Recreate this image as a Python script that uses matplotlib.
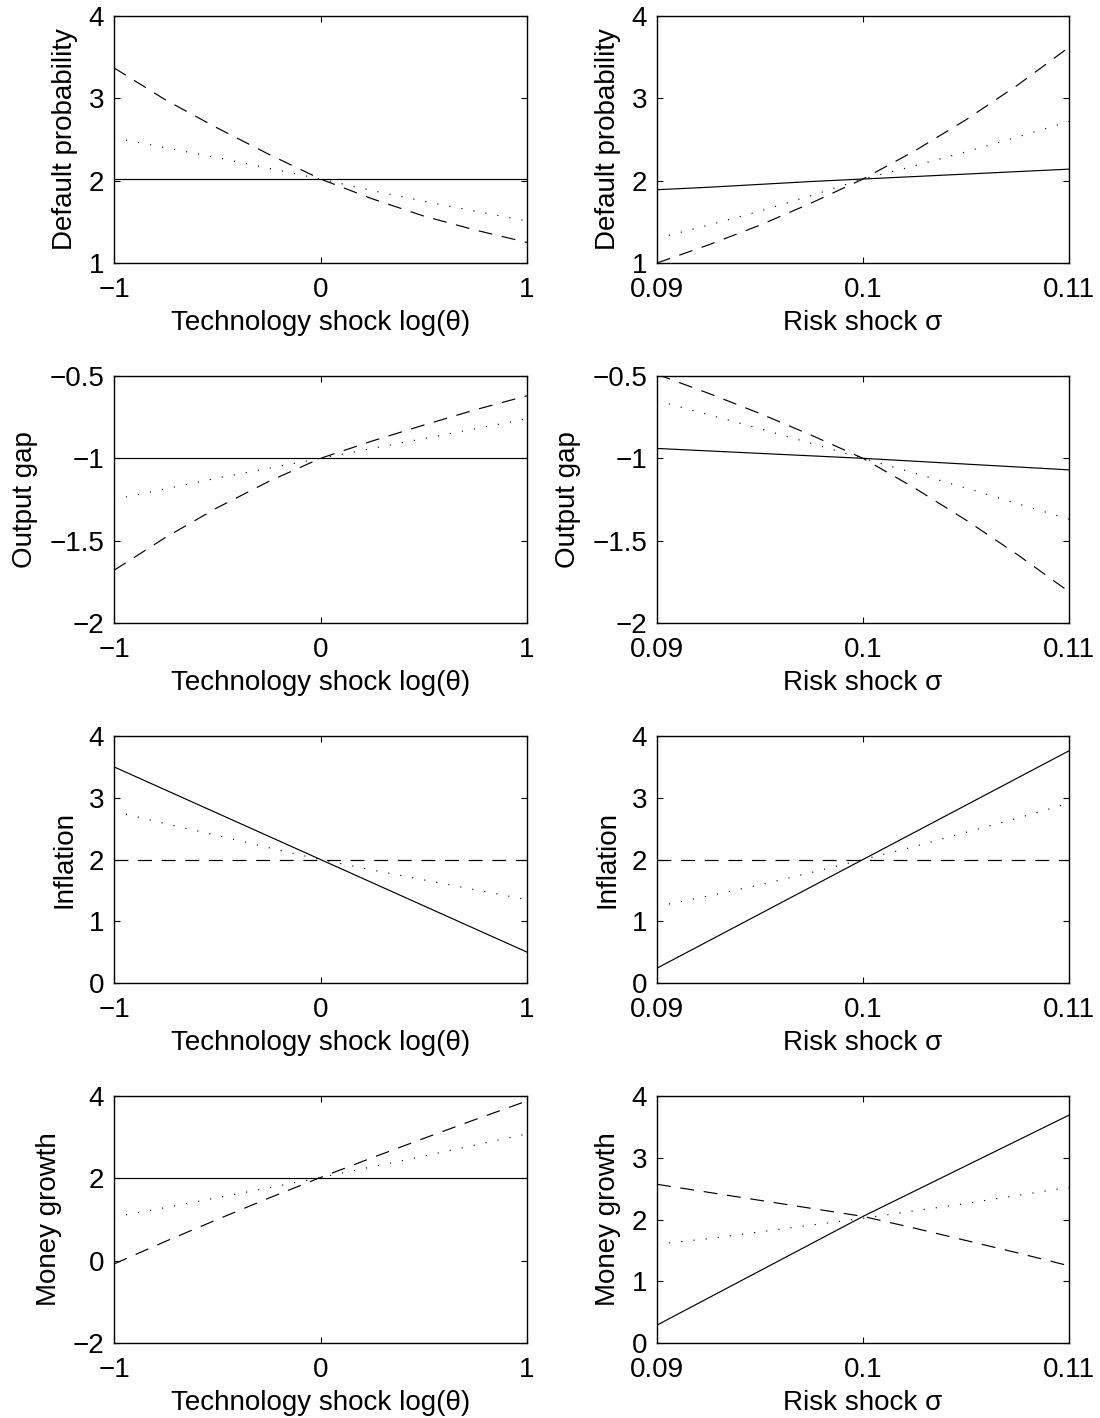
import numpy as np
import matplotlib
matplotlib.use("Agg")
import matplotlib.pyplot as plt

plt.rcParams["font.family"] = ["Liberation Sans", "DejaVu Sans"]
plt.rcParams["lines.scale_dashes"] = False

# x grids
tech_x = [-1.0, -0.75, -0.5, -0.25, 0.0, 0.25, 0.5, 0.75, 1.0]
risk_x = [0.09, 0.0925, 0.095, 0.0975, 0.10, 0.1025, 0.105, 0.1075, 0.11]

# Default probability
dp_tech_solid = [2.02] * 9
dp_tech_dashed = [3.37, 2.98, 2.64, 2.32, 2.02, 1.78, 1.57, 1.40, 1.25]
dp_tech_dotted = [2.52, 2.40, 2.28, 2.15, 2.02, 1.88, 1.75, 1.63, 1.51]
dp_risk_solid = [1.89, 1.92, 1.955, 1.99, 2.02, 2.05, 2.08, 2.11, 2.14]
dp_risk_dashed = [1.00, 1.22, 1.46, 1.73, 2.02, 2.36, 2.74, 3.16, 3.62]
dp_risk_dotted = [1.30, 1.46, 1.63, 1.82, 2.02, 2.18, 2.35, 2.53, 2.72]

# Output gap
og_tech_solid = [-1.0] * 9
og_tech_dashed = [-1.68, -1.48, -1.30, -1.14, -1.0, -0.895, -0.798, -0.705, -0.62]
og_tech_dotted = [-1.25, -1.185, -1.12, -1.06, -1.0, -0.94, -0.88, -0.82, -0.76]
og_risk_solid = [-0.94, -0.955, -0.97, -0.985, -1.0, -1.0175, -1.035, -1.0525, -1.07]
og_risk_dashed = [-0.49, -0.605, -0.728, -0.86, -1.0, -1.18, -1.375, -1.585, -1.81]
og_risk_dotted = [-0.65, -0.735, -0.82, -0.91, -1.0, -1.09, -1.18, -1.275, -1.37]

# Inflation
inf_tech_solid = [3.5, 3.125, 2.75, 2.375, 2.0, 1.625, 1.25, 0.875, 0.5]
inf_tech_dashed = [2.0] * 9
inf_tech_dotted = [2.78, 2.58, 2.39, 2.19, 2.0, 1.83, 1.67, 1.51, 1.35]
inf_risk_solid = [0.24, 0.68, 1.12, 1.56, 2.0, 2.44, 2.88, 3.32, 3.76]
inf_risk_dashed = [2.0] * 9
inf_risk_dotted = [1.24, 1.41, 1.59, 1.79, 2.0, 2.21, 2.44, 2.67, 2.91]

# Money growth
mg_tech_solid = [2.02] * 9
mg_tech_dashed = [-0.08, 0.47, 1.00, 1.52, 2.02, 2.50, 2.97, 3.43, 3.88]
mg_tech_dotted = [1.06, 1.29, 1.53, 1.77, 2.02, 2.28, 2.54, 2.81, 3.08]
mg_risk_solid = [0.29, 0.73, 1.17, 1.61, 2.05, 2.46, 2.87, 3.28, 3.69]
mg_risk_dashed = [2.57, 2.44, 2.31, 2.18, 2.05, 1.86, 1.66, 1.46, 1.25]
mg_risk_dotted = [1.60, 1.69, 1.80, 1.91, 2.02, 2.14, 2.26, 2.39, 2.52]

ylabels = ["Default probability", "Output gap", "Inflation", "Money growth"]
tech_series = [
    (dp_tech_solid, dp_tech_dashed, dp_tech_dotted),
    (og_tech_solid, og_tech_dashed, og_tech_dotted),
    (inf_tech_solid, inf_tech_dashed, inf_tech_dotted),
    (mg_tech_solid, mg_tech_dashed, mg_tech_dotted),
]
risk_series = [
    (dp_risk_solid, dp_risk_dashed, dp_risk_dotted),
    (og_risk_solid, og_risk_dashed, og_risk_dotted),
    (inf_risk_solid, inf_risk_dashed, inf_risk_dotted),
    (mg_risk_solid, mg_risk_dashed, mg_risk_dotted),
]
tech_ylims = [(1, 4), (-2, -0.5), (0, 4), (-2, 4)]
tech_yticks = [[1, 2, 3, 4], [-2, -1.5, -1, -0.5], [0, 1, 2, 3, 4], [-2, 0, 2, 4]]
risk_ylims = [(1, 4), (-2, -0.5), (0, 4), (0, 4)]
risk_yticks = [[1, 2, 3, 4], [-2, -1.5, -1, -0.5], [0, 1, 2, 3, 4], [0, 1, 2, 3, 4]]

W, H = 1100, 1418
fig = plt.figure(figsize=(W / 100, H / 100), dpi=100)

FS = 20
styles = [dict(linestyle="-"), dict(linestyle=(0, (10, 7))), dict(linestyle=(0, (0.8, 8)))]


def fmt(v):
    s = f"{v:g}"
    return s.replace("-", "\u2212")


def draw(ax, x, series, xlim, xticks, xlabels, ylim, yticks, xlabel, ylabel):
    for ys, st in zip(series, styles):
        ax.plot(x, ys, color="black", linewidth=0.85, **st)
    ax.set_xlim(*xlim)
    ax.set_ylim(*ylim)
    ax.set_xticks(xticks)
    ax.set_xticklabels(xlabels)
    ax.set_yticks(yticks)
    ax.set_yticklabels([fmt(v) for v in yticks])
    ax.tick_params(direction="in", top=True, right=True, length=4, width=0.8,
                   labelsize=FS)
    ax.tick_params(axis="x", pad=10)
    ax.tick_params(axis="y", pad=7)
    for sp in ax.spines.values():
        sp.set_linewidth(1.0)
    ax.set_xlabel(xlabel, fontsize=FS, labelpad=5)
    ax.set_ylabel(ylabel, fontsize=FS, labelpad=8)


pitch = 360
for i in range(4):
    top = 16 + pitch * i
    bottom = 1 - (top + 247) / H
    h = 247 / H
    axl = fig.add_axes([114 / W, bottom, 413 / W, h])
    draw(axl, tech_x, tech_series[i], (-1, 1), [-1, 0, 1], ["\u22121", "0", "1"],
         tech_ylims[i], tech_yticks[i], "Technology shock log(\u03b8)", ylabels[i])
    axr = fig.add_axes([657 / W, bottom, 412 / W, h])
    draw(axr, risk_x, risk_series[i], (0.09, 0.11), [0.09, 0.10, 0.11], ["0.09", "0.1", "0.11"],
         risk_ylims[i], risk_yticks[i], "Risk shock \u03c3", ylabels[i])

fig.savefig("out.png", dpi=100)
